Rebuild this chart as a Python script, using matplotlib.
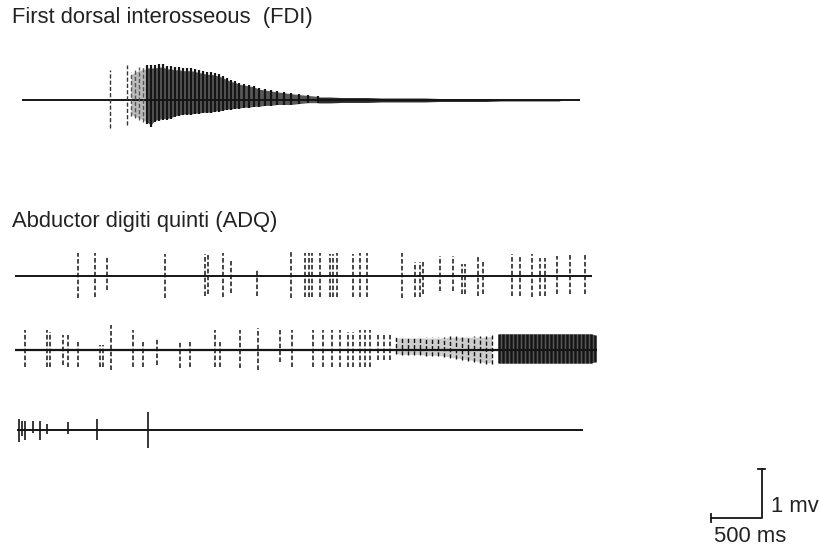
import numpy as np
import matplotlib.pyplot as plt

plt.rcParams['font.family'] = ['Liberation Sans', 'DejaVu Sans']

# --- data: spike times in ms from trace start, amplitudes in mV (up / down) ---

# First dorsal interosseous (FDI), 5.47 s sweep
fdi_len = 5470
fdi_pre_t = [862, 1029]
fdi_pre_up = [0.61, 0.71]
fdi_pre_dn = [0.57, 0.51]
fdi_burst_t = [1068, 1107, 1147, 1186, 1225, 1264, 1303, 1343, 1382, 1421,
               1460, 1499, 1539, 1578, 1617, 1656, 1695, 1735, 1774, 1813,
               1852, 1891, 1931, 1970, 2009, 2048, 2087, 2127, 2176, 2225,
               2274, 2323, 2381, 2440, 2499, 2568, 2636, 2715, 2803, 2901]
fdi_burst_up = [0.57, 0.63, 0.67, 0.69, 0.71, 0.71, 0.71, 0.73, 0.73, 0.69,
                0.69, 0.67, 0.67, 0.65, 0.65, 0.65, 0.63, 0.61, 0.59, 0.57,
                0.57, 0.55, 0.53, 0.49, 0.45, 0.41, 0.39, 0.35, 0.33, 0.31,
                0.29, 0.24, 0.22, 0.20, 0.18, 0.16, 0.14, 0.12, 0.10, 0.08]
fdi_burst_dn = [0.33, 0.37, 0.41, 0.45, 0.49, 0.55, 0.45, 0.43, 0.41, 0.41,
                0.39, 0.35, 0.33, 0.31, 0.31, 0.31, 0.29, 0.29, 0.27, 0.27,
                0.27, 0.24, 0.24, 0.22, 0.20, 0.20, 0.18, 0.18, 0.16, 0.16,
                0.14, 0.14, 0.12, 0.12, 0.10, 0.10, 0.10, 0.08, 0.06, 0.06]
fdi_tail_t = [2901, 3018, 3136, 3263, 3391, 3528, 3665, 3802, 3949, 4096,
              4243, 4390, 4547, 4704, 4880, 5076, 5272]
fdi_tail_amp = [0.06, 0.06, 0.05, 0.05, 0.05, 0.04, 0.04, 0.04, 0.04, 0.03,
                0.03, 0.03, 0.03, 0.02, 0.02, 0.02, 0.02]

# Abductor digiti quinti (ADQ), sweep 1
adq1_len = 5655
adq1_t = [617, 784, 902, 1470, 1862, 1891, 2038, 2117, 2372, 2705,
          2842, 2881, 2911, 2989, 3087, 3116, 3156, 3312, 3381, 3450,
          3793, 3920, 3969, 3998, 4165, 4292, 4381, 4410, 4537, 4586,
          4871, 4949, 5067, 5145, 5194, 5312, 5439, 5586]
adq1_up = [0.47, 0.47, 0.41, 0.45, 0.45, 0.45, 0.47, 0.31, 0.12, 0.49,
           0.47, 0.47, 0.47, 0.47, 0.45, 0.45, 0.47, 0.45, 0.47, 0.47,
           0.47, 0.29, 0.29, 0.29, 0.41, 0.41, 0.24, 0.24, 0.41, 0.31,
           0.45, 0.41, 0.45, 0.37, 0.37, 0.41, 0.45, 0.45]
adq1_dn = [0.45, 0.43, 0.29, 0.45, 0.41, 0.37, 0.43, 0.35, 0.41, 0.45,
           0.43, 0.43, 0.43, 0.43, 0.43, 0.43, 0.43, 0.43, 0.43, 0.43,
           0.45, 0.43, 0.43, 0.37, 0.31, 0.31, 0.37, 0.37, 0.41, 0.37,
           0.41, 0.41, 0.43, 0.41, 0.41, 0.37, 0.37, 0.37]

# ADQ sweep 2: scattered units, then recruitment
adq2_len = 5704
adq2_t = [98, 314, 343, 470, 519, 617, 833, 862, 941, 1156,
          1254, 1392, 1617, 1715, 1960, 2009, 2205, 2381, 2597, 2715,
          2920, 3018, 3107, 3185, 3263, 3312, 3381, 3430, 3479, 3557,
          3616, 3675]
adq2_up = [0.41, 0.41, 0.37, 0.31, 0.31, 0.16, 0.10, 0.10, 0.51, 0.41,
           0.16, 0.24, 0.16, 0.16, 0.41, 0.16, 0.41, 0.45, 0.41, 0.41,
           0.41, 0.41, 0.41, 0.41, 0.37, 0.37, 0.41, 0.41, 0.41, 0.31,
           0.31, 0.31]
adq2_dn = [0.35, 0.35, 0.35, 0.31, 0.35, 0.35, 0.35, 0.35, 0.41, 0.35,
           0.35, 0.31, 0.37, 0.35, 0.35, 0.35, 0.37, 0.41, 0.24, 0.35,
           0.35, 0.35, 0.35, 0.35, 0.35, 0.35, 0.35, 0.35, 0.35, 0.20,
           0.20, 0.20]
adq2_dense_t = [3734, 3793, 3851, 3910, 3969, 4028, 4087, 4145, 4204, 4263,
                4322, 4381, 4439, 4498, 4557, 4616, 4675]
adq2_dense_up = [0.27, 0.27, 0.27, 0.27, 0.27, 0.27, 0.27, 0.27, 0.27, 0.29,
                 0.29, 0.29, 0.29, 0.29, 0.29, 0.29, 0.31]
adq2_dense_dn = [0.08, 0.10, 0.10, 0.10, 0.10, 0.12, 0.12, 0.12, 0.14, 0.16,
                 0.18, 0.20, 0.22, 0.24, 0.27, 0.29, 0.29]
adq2_block_t = [4743, 4782, 4822, 4861, 4900, 4939, 4979, 5018, 5057, 5096,
                5135, 5174, 5214, 5253, 5292, 5331, 5371, 5410, 5449, 5488,
                5527, 5566, 5606, 5645, 5684]
adq2_block_up = [0.33, 0.33, 0.33, 0.33, 0.33, 0.33, 0.33, 0.33, 0.33, 0.33,
                 0.33, 0.33, 0.33, 0.33, 0.33, 0.33, 0.33, 0.33, 0.33, 0.33,
                 0.33, 0.33, 0.33, 0.33, 0.31]
adq2_block_dn = [0.27, 0.27, 0.27, 0.27, 0.27, 0.27, 0.27, 0.27, 0.27, 0.27,
                 0.27, 0.27, 0.27, 0.27, 0.27, 0.27, 0.27, 0.27, 0.27, 0.27,
                 0.27, 0.27, 0.27, 0.27, 0.24]

# ADQ sweep 3: a few units at onset then silence
adq3_len = 5547
adq3_t = [20, 49, 78, 157, 225, 294, 500, 784, 1284]
adq3_up = [0.24, 0.20, 0.20, 0.20, 0.20, 0.12, 0.16, 0.24, 0.37]
adq3_dn = [0.24, 0.12, 0.20, 0.06, 0.20, 0.08, 0.08, 0.20, 0.37]

# scale bar
bar_ms = 500
bar_mv = 1.0

# --- layout: x in ms, y in mV (page is 8030 ms wide, 11.14 mV tall) ---
INK = '#151515'
fig = plt.figure(figsize=(8.19, 5.46), dpi=100)
ax = fig.add_axes([0, 0, 1, 1])
ax.set_xlim(0, 8030)
ax.set_ylim(-11.14, 0)
ax.axis('off')


def trace(x0, y0, length, lw=1.4):
    ax.plot([x0, x0 + length], [y0, y0], color=INK, lw=lw, solid_capstyle='butt')


def spikes(x0, y0, t, up, dn, lw=1.0, dashed=False, color=INK):
    t = np.asarray(t) + x0
    ls = (0, (3, 1.5)) if dashed else '-'
    ax.vlines(t, y0 - np.asarray(dn), y0 + np.asarray(up),
              colors=color, lw=lw, linestyles=ls)


def mass(x0, y0, t, up, dn, alpha=0.45, k=0.9, color='#3a3a3a'):
    t = np.asarray(t) + x0
    ax.fill_between(t, y0 - np.asarray(dn) * k, y0 + np.asarray(up) * k,
                    color=color, alpha=alpha, lw=0)


# FDI
x0, y0 = 216, -2.04
trace(x0, y0, fdi_len)
spikes(x0, y0, fdi_pre_t, fdi_pre_up, fdi_pre_dn, lw=1.0, dashed=True, color='#333333')
mass(x0, y0, fdi_burst_t[:5], fdi_burst_up[:5], fdi_burst_dn[:5], alpha=0.35)
mass(x0, y0, fdi_burst_t[4:], fdi_burst_up[4:], fdi_burst_dn[4:], alpha=0.85, k=0.92)
spikes(x0, y0, fdi_burst_t[:4], fdi_burst_up[:4], fdi_burst_dn[:4], lw=1.0,
       dashed=True, color='#555555')
spikes(x0, y0, fdi_burst_t[4:], fdi_burst_up[4:], fdi_burst_dn[4:], lw=1.6)
mass(x0, y0, fdi_tail_t, fdi_tail_amp, fdi_tail_amp, alpha=0.9, k=1.0, color=INK)

# ADQ 1
x0, y0 = 147, -5.63
trace(x0, y0, adq1_len)
spikes(x0, y0, adq1_t, adq1_up, adq1_dn, lw=1.1, dashed=True)

# ADQ 2
x0, y0 = 147, -7.14
trace(x0, y0, adq2_len, lw=1.6)
spikes(x0, y0, adq2_t, adq2_up, adq2_dn, lw=1.1, dashed=True)
mass(x0, y0, adq2_dense_t, adq2_dense_up, adq2_dense_dn, alpha=0.25)
spikes(x0, y0, adq2_dense_t, adq2_dense_up, adq2_dense_dn, lw=1.0, dashed=True)
mass(x0, y0, adq2_block_t, adq2_block_up, adq2_block_dn, alpha=0.85, k=1.0)
spikes(x0, y0, adq2_block_t, adq2_block_up, adq2_block_dn, lw=1.8)

# ADQ 3
x0, y0 = 167, -8.78
trace(x0, y0, adq3_len)
spikes(x0, y0, adq3_t, adq3_up, adq3_dn, lw=1.2)

# scale bar (corner at 7468 ms, -10.57 mV)
cx, cy = 7468, -10.57
ax.plot([cx - bar_ms, cx, cx], [cy, cy, cy + bar_mv], color=INK, lw=1.3)
ax.plot([cx - 35, cx + 35], [cy + bar_mv, cy + bar_mv], color=INK, lw=1.3)
ax.plot([cx - bar_ms, cx - bar_ms], [cy - 0.08, cy + 0.08], color=INK, lw=1.3)

# labels
fs = 15.8
fig.text(12 / 819, 1 - 18 / 546, 'First dorsal interosseous  (FDI)',
         fontsize=fs, va='center', ha='left', color='#222222')
fig.text(12 / 819, 1 - 222 / 546, 'Abductor digiti quinti (ADQ)',
         fontsize=fs, va='center', ha='left', color='#222222')
fig.text(771 / 819, 1 - 507 / 546, '1 mv', fontsize=fs, va='center',
         ha='left', color='#222222')
fig.text(714 / 819, 1 - 537 / 546, '500 ms', fontsize=fs, va='center',
         ha='left', color='#222222')

fig.savefig('out.png', dpi=100)
